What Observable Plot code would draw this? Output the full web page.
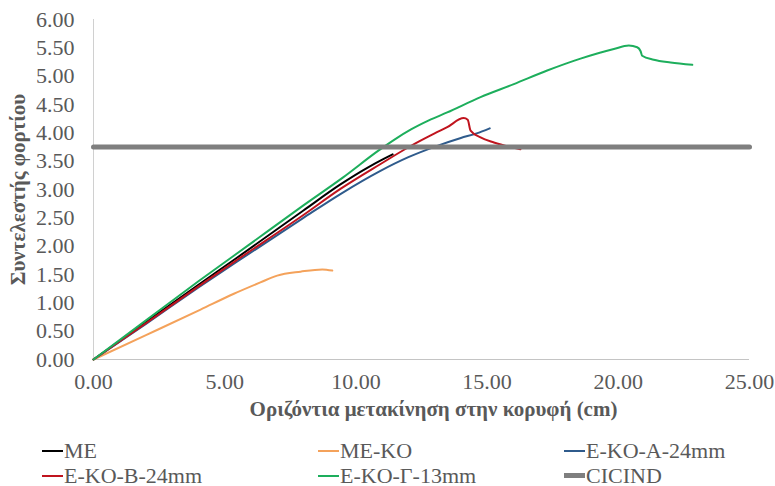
<!DOCTYPE html>
<html>
<head>
<meta charset="utf-8">
<script src="https://cdn.jsdelivr.net/npm/d3@7"></script>
<script src="https://cdn.jsdelivr.net/npm/@observablehq/plot@0.6"></script>
<style>
  html, body { margin: 0; padding: 0; background: #fff; }
  #wrap { position: relative; width: 775px; height: 486px; overflow: hidden; }
  #legend { position: absolute; left: 0; top: 438px; width: 775px; font-family: "Liberation Serif", Tinos, "Times New Roman", Times, serif; font-size: 22px; color: #595959; }
  .item { position: absolute; display: flex; align-items: center; white-space: nowrap; height: 25px; }
  .sw { display: inline-block; width: 21px; margin-right: 1px; }
  svg text { font-family: "Liberation Serif", Tinos, "Times New Roman", Times, serif; }
</style>
</head>
<body>
<div id="wrap"><div id="chart"></div><div id="legend"></div></div>
<script>
// ---- data ----
const seriesNames = ["ME", "ME-KO", "E-KO-A-24mm", "E-KO-B-24mm", "E-KO-Γ-13mm", "CICIND"];
const seriesColors = ["#000000", "#F4A25B", "#2F5B8C", "#C0141E", "#1DAE5C", "#7F7F7F"];

const meX = [0, 2, 4, 5.48, 8, 9.41, 10.5, 11.06, 11.4];
const meY = [0, 0.66, 1.32, 1.80, 2.63, 3.09, 3.40, 3.54, 3.62];

const meKoX = [0, 2, 4.08, 5.35, 6.36, 7.0, 7.89, 8.72, 9.10];
const meKoY = [0, 0.43, 0.88, 1.16, 1.36, 1.48, 1.55, 1.59, 1.57];

const ekoAX = [0, 2, 4, 5.48, 8, 9.41, 10.9, 12.0, 13.1, 14.0, 14.6, 15.1];
const ekoAY = [0, 0.63, 1.27, 1.73, 2.50, 2.92, 3.32, 3.57, 3.77, 3.91, 3.99, 4.08];

const ekoBX = [0, 2, 4, 5.48, 8, 9.41, 10.94, 12.02, 13.0, 13.48, 14.11, 14.26, 14.37, 14.75, 15.26, 16.27];
const ekoBY = [0, 0.64, 1.29, 1.76, 2.55, 3.01, 3.45, 3.75, 3.99, 4.10, 4.26, 4.23, 4.04, 3.92, 3.83, 3.71];

const ekoGX = [0, 2, 4, 6, 8, 9.5, 10.87, 11.5, 12.1, 12.78, 13.48, 14.75, 16.02, 17.29, 18.56, 19.83, 20.4, 20.72, 20.85, 20.91, 21.35, 21.99, 22.82];
const ekoGY = [0, 0.69, 1.38, 2.05, 2.72, 3.21, 3.69, 3.89, 4.06, 4.22, 4.36, 4.63, 4.86, 5.10, 5.31, 5.48, 5.54, 5.51, 5.44, 5.36, 5.29, 5.24, 5.20];

const cicindX = [0, 25];
const cicindY = [3.75, 3.75];

const xTicks = [0, 5, 10, 15, 20, 25];
const yTicks = [0, 0.5, 1, 1.5, 2, 2.5, 3, 3.5, 4, 4.5, 5, 5.5, 6];
const xTitle = "Οριζόντια μετακίνηση στην κορυφή (cm)";
const yTitle = "Συντελεστής φορτίου";

// ---- build table ----
const curveX = [meX, meKoX, ekoAX, ekoBX, ekoGX];
const curveY = [meY, meKoY, ekoAY, ekoBY, ekoGY];
const curves = [];
curveX.forEach((xs, i) => xs.forEach((x, j) => curves.push({series: seriesNames[i], x, y: curveY[i][j]})));
const cicind = cicindX.map((x, j) => ({series: "CICIND", x, y: cicindY[j]}));

const colorScale = {domain: seriesNames, range: seriesColors};
const fmt = d => d.toFixed(2);
const serif = "'Liberation Serif', Tinos, 'Times New Roman', Times, serif";

const chart = Plot.plot({
  width: 775,
  height: 438,
  marginLeft: 93,
  marginRight: 26,
  marginTop: 19,
  marginBottom: 79,
  style: {fontFamily: serif, fontSize: "22px", color: "#595959", background: "white"},
  x: {domain: [0, 25]},
  y: {domain: [0, 6]},
  color: colorScale,
  marks: [
    Plot.axisX({ticks: xTicks, tickFormat: fmt, tickSize: 0, tickPadding: 14, label: null, fill: "#595959", fontSize: 22}),
    Plot.axisY({ticks: yTicks, tickFormat: fmt, tickSize: 0, tickPadding: 19, label: null, fill: "#595959", fontSize: 22}),
    Plot.ruleX([0], {stroke: "#d0d0d0", strokeWidth: 1}),
    Plot.ruleY([0], {stroke: "#c4c4c4", strokeWidth: 1}),
    Plot.line(curves, {x: "x", y: "y", z: "series", stroke: "series", strokeWidth: 2, curve: "monotone-x"}),
    Plot.line(cicind, {x: "x", y: "y", stroke: "series", strokeWidth: 5}),
    Plot.text([xTitle], {frameAnchor: "bottom", dx: 12, dy: 56, fontWeight: "bold", fontSize: 21, fill: "#595959", fontFamily: serif}),
    Plot.text([yTitle], {frameAnchor: "left", textAnchor: "middle", dx: -75, rotate: -90, fontWeight: "bold", fontSize: 21, fill: "#595959", fontFamily: serif})
  ]
});
document.getElementById("chart").appendChild(chart);

// ---- legend (below the svg) ----
const legendPos = [[42, 0], [318, 0], [564, 0], [42, 25], [318, 25], [564, 25]];
const legend = document.getElementById("legend");
seriesNames.forEach((name, i) => {
  const item = document.createElement("div");
  item.className = "item";
  item.style.left = legendPos[i][0] + "px";
  item.style.top = legendPos[i][1] + "px";
  const sw = document.createElement("span");
  sw.className = "sw";
  sw.style.height = (name === "CICIND" ? 5 : 2) + "px";
  sw.style.background = seriesColors[i];
  const t = document.createElement("span");
  t.textContent = name;
  item.appendChild(sw);
  item.appendChild(t);
  legend.appendChild(item);
});
</script>
</body>
</html>
